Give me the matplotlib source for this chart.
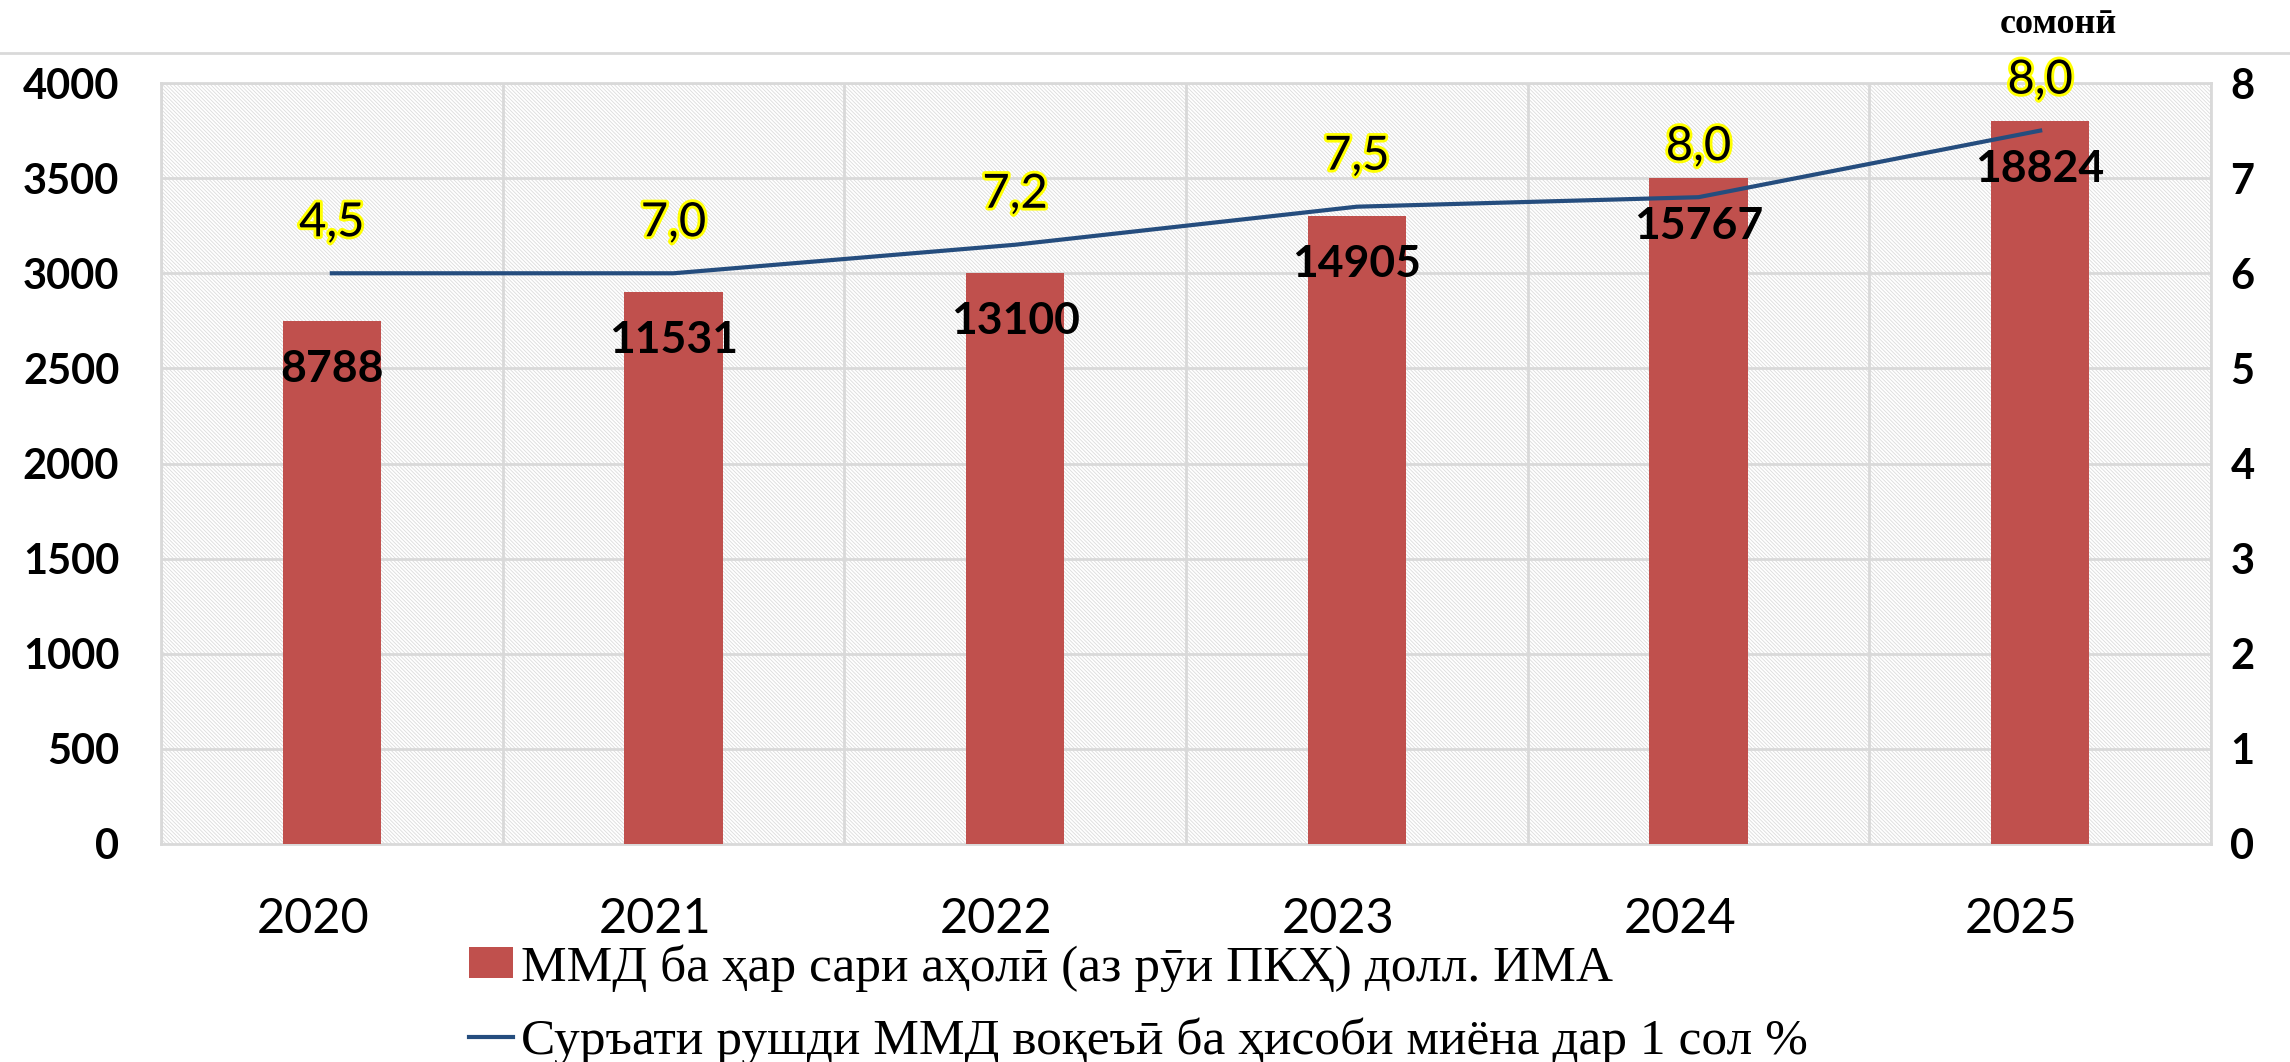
import matplotlib.pyplot as plt
import matplotlib.patheffects as pe
from matplotlib.patches import Rectangle
import numpy as np

# data
years = ['2020', '2021', '2022', '2023', '2024', '2025']
bar_values = [2750, 2900, 3000, 3300, 3500, 3800]
bar_labels = ['8788', '11531', '13100', '14905', '15767', '18824']
line_values = [6.0, 6.0, 6.3, 6.7, 6.8, 7.5]
line_labels = ['4,5', '7,0', '7,2', '7,5', '8,0', '8,0']
bar_name = 'ММД ба ҳар сари аҳолӣ (аз рӯи ПКҲ) долл. ИМА'
line_name = 'Суръати рушди ММД воқеъӣ ба ҳисоби миёна дар 1 сол %'

bar_color = '#c0504d'
line_color = '#254d7e'
grid_color = '#d9d9d9'
sans = ['Lato', 'DejaVu Sans']
serif = ['Liberation Serif', 'DejaVu Serif']

plt.rcParams['hatch.linewidth'] = 0.6
plt.rcParams['hatch.color'] = '#dcdcdc'

fig = plt.figure(figsize=(22.9, 10.62), dpi=100)
ax = fig.add_axes([0.0703, 0.2053, 0.8952, 0.7165])
ax2 = ax.twinx()

x = np.arange(len(years))

# hatched background
ax.add_patch(Rectangle((0, 0), 1, 1, transform=ax.transAxes, facecolor='white',
                       edgecolor='#dcdcdc', hatch='\\' * 9, lw=0, zorder=0))

bars = ax.bar(x, bar_values, width=0.287, color=bar_color, zorder=3, label=bar_name)
ax.set_xlim(-0.5, len(years) - 0.5)
ax.set_ylim(0, 4000)
ax.set_yticks(range(0, 4001, 500))
ax.set_xticks(x - 0.055)
ax.set_xticklabels(years, fontsize=35, family=sans)
for lab in ax.get_yticklabels():
    lab.set_fontweight('bold')
    lab.set_fontsize(30)
    lab.set_family(sans)
ax.tick_params(axis='y', length=0, pad=30)
ax.tick_params(axis='x', length=0, pad=38)

# grid
for v in range(500, 4001, 500):
    ax.axhline(v, color=grid_color, lw=2, zorder=1)
for b in np.arange(-0.5, len(years), 1.0):
    ax.axvline(b, color=grid_color, lw=2, zorder=1)
for s in ax.spines.values():
    s.set_color(grid_color)
    s.set_linewidth(2)
for s in ax2.spines.values():
    s.set_visible(False)

for xi, v, t in zip(x, bar_values, bar_labels):
    ax.annotate(t, (xi, v), xytext=(0, -48), textcoords='offset pixels',
                ha='center', va='center', fontsize=32, fontweight='bold',
                family=sans, color='black', zorder=6)

ln, = ax2.plot(x, line_values, color=line_color, lw=3, zorder=5, label=line_name)
ax2.set_ylim(0, 8)
ax2.set_yticks(range(0, 9))
for lab in ax2.get_yticklabels():
    lab.set_fontweight('bold')
    lab.set_fontsize(30)
    lab.set_family(sans)
ax2.tick_params(axis='y', length=0, pad=14)

for xi, v, t in zip(x, line_values, line_labels):
    ax2.annotate(t, (xi, v), xytext=(0, 50), textcoords='offset pixels',
                 ha='center', va='center', fontsize=34, family=sans, color='black',
                 path_effects=[pe.withStroke(linewidth=4, foreground='#ffff00')],
                 zorder=7)

ax.set_zorder(ax2.get_zorder() - 1)
ax.patch.set_visible(False)
ax2.patch.set_visible(False)

# unit label and top rule
fig.text(0.899, 0.977, 'сомонӣ', ha='center', va='center', fontsize=26,
         fontweight='bold', family=serif)
fig.add_artist(plt.Line2D([0, 1], [1 - 53 / 1062] * 2, transform=fig.transFigure,
                          color=grid_color, lw=2))

leg = fig.legend([bars, ln], [bar_name, line_name], loc='upper left',
                 bbox_to_anchor=(0.205, (1062 - 944) / 1062), frameon=False,
                 prop={'family': serif, 'size': 37}, handlelength=0.85,
                 handleheight=0.55, handletextpad=0.15, labelspacing=0.5,
                 borderaxespad=0, borderpad=0)

fig.savefig('out.png', dpi=100)
